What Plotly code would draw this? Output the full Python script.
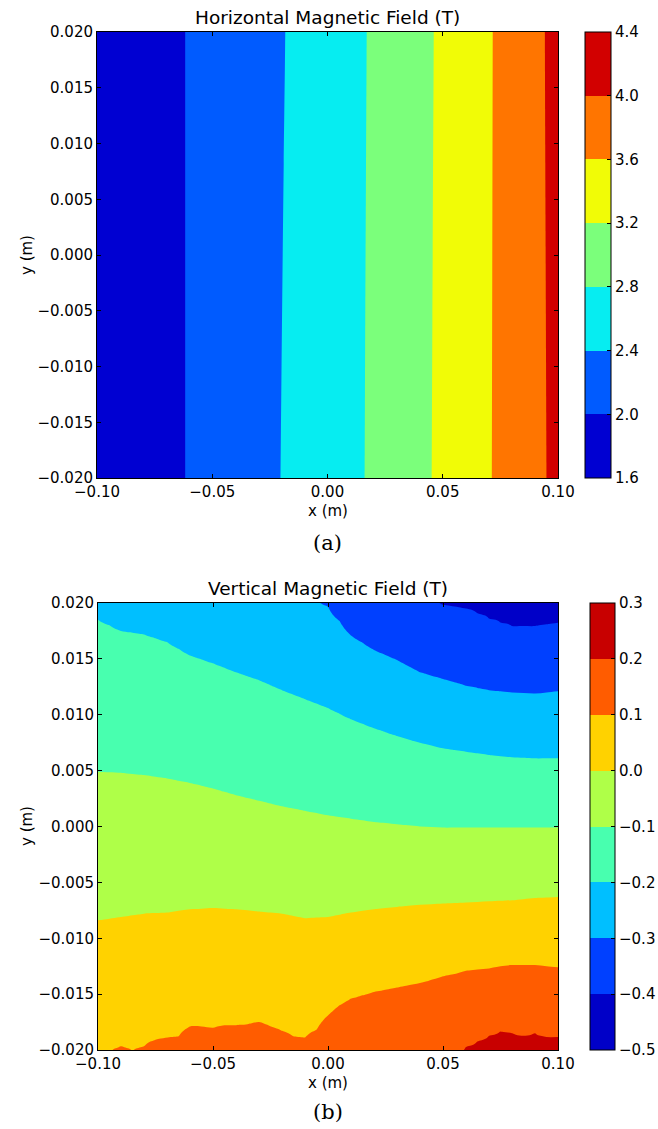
import numpy as np
import plotly.graph_objects as go

# ---------------- (a) Horizontal magnetic field ----------------
# x-position (m) where each contour level crosses the top edge (y=0.02) and bottom edge (y=-0.02)
bx_levels = [1.6, 2.0, 2.4, 2.8, 3.2, 3.6, 4.0, 4.4]
bx_cross_top = [-0.120, -0.0617, -0.0183, 0.0170, 0.0461, 0.0717, 0.0943, 0.115]
bx_cross_bottom = [-0.120, -0.0617, -0.0204, 0.0161, 0.0452, 0.0713, 0.0950, 0.115]
bx_ticks = [1.6, 2.0, 2.4, 2.8, 3.2, 3.6, 4.0, 4.4]

# ---------------- (b) Vertical magnetic field ----------------
by_levels = [-0.5, -0.4, -0.3, -0.2, -0.1, 0.0, 0.1, 0.2, 0.3]
x_coarse = [-0.10, -0.09, -0.08, -0.07, -0.06, -0.05, -0.04, -0.03, -0.02, -0.01, 0.00,
            0.01, 0.02, 0.03, 0.04, 0.05, 0.06, 0.07, 0.08, 0.09, 0.10]
x_fine = [-0.100, -0.095, -0.090, -0.085, -0.080, -0.075, -0.070, -0.065, -0.060, -0.055,
          -0.050, -0.045, -0.040, -0.035, -0.030, -0.025, -0.020, -0.015, -0.010, -0.005,
          0.000, 0.005, 0.010, 0.015, 0.020, 0.025, 0.030, 0.035, 0.040, 0.045, 0.050,
          0.055, 0.060, 0.065, 0.070, 0.075, 0.080, 0.085, 0.090, 0.095, 0.100]
# y-position (m) of each contour level along x (values outside +-0.02 lie off the plot)
y_lvl_m05 = 0.04
y_lvl_m04 = [0.0332, 0.0326, 0.0319, 0.0310, 0.0301, 0.0292, 0.0283, 0.0272, 0.0261, 0.0249,
             0.0238, 0.0228, 0.0219, 0.0212, 0.0205, 0.0198, 0.0195, 0.0186, 0.0179, 0.0179, 0.0182]
y_lvl_m03 = [0.0265, 0.0264, 0.0261, 0.0256, 0.0252, 0.0246, 0.0238, 0.0230, 0.0221, 0.0210,
             0.0197, 0.0171, 0.0158, 0.0149, 0.0138, 0.0132, 0.0126, 0.0122, 0.0120, 0.0119, 0.0121]
y_lvl_m02 = [0.0185, 0.0175, 0.0172, 0.0165, 0.0153, 0.0146, 0.0138, 0.0131, 0.0122, 0.0114,
             0.0106, 0.0096, 0.0088, 0.0081, 0.0075, 0.0070, 0.0067, 0.0064, 0.0062, 0.0061, 0.0061]
y_lvl_m01 = [0.0049, 0.0048, 0.0046, 0.0043, 0.0039, 0.0034, 0.0028, 0.0023, 0.0018, 0.0014,
             0.0010, 0.0007, 0.0004, 0.0002, 0.0000, -0.0001, -0.0001, -0.0001, -0.0001, -0.0001, -0.0001]
y_lvl_00 = [-0.0084, -0.0081, -0.0078, -0.0077, -0.0074, -0.0073, -0.0074, -0.0076, -0.0078, -0.0082,
            -0.0081, -0.0077, -0.0074, -0.0072, -0.0070, -0.0069, -0.0068, -0.0067, -0.0066, -0.0064, -0.0063]
y_lvl_p01 = [-0.0205, -0.0203, -0.0197, -0.0201, -0.0197, -0.0191, -0.0189, -0.0188, -0.0179, -0.0179,
             -0.0180, -0.0178, -0.0178, -0.0177, -0.0175, -0.0179, -0.0183, -0.0188, -0.0189, -0.0182,
             -0.0169, -0.0160, -0.0154, -0.0151, -0.0148, -0.0146, -0.0144, -0.0142, -0.0140, -0.0137,
             -0.0134, -0.0132, -0.0129, -0.0128, -0.0127, -0.0125, -0.0124, -0.0124, -0.0124, -0.0125, -0.0126]
y_lvl_p02 = [-0.0240, -0.0240, -0.0240, -0.0240, -0.0240, -0.0240, -0.0240, -0.0240, -0.0240, -0.0240,
             -0.0240, -0.0240, -0.0240, -0.0240, -0.0240, -0.0240, -0.0240, -0.0240, -0.0240, -0.0240,
             -0.0240, -0.0240, -0.0240, -0.0240, -0.0240, -0.0240, -0.0240, -0.0240, -0.0240, -0.0240,
             -0.0240, -0.0205, -0.0197, -0.0192, -0.0187, -0.0183, -0.0185, -0.0187, -0.0185, -0.0188, -0.0188]
y_lvl_p03 = -0.04
by_ticks = [-0.5, -0.4, -0.3, -0.2, -0.1, 0.0, 0.1, 0.2, 0.3]


def jet(t):
    def seg(pts):
        xs = [p[0] for p in pts]
        vs = [p[1] for p in pts]
        return float(np.interp(t, xs, vs))
    r = seg([(0, 0), (0.35, 0), (0.66, 1), (0.89, 1), (1, 0.5)])
    g = seg([(0, 0), (0.125, 0), (0.375, 1), (0.64, 1), (0.91, 0), (1, 0)])
    b = seg([(0, 0.5), (0.11, 1), (0.34, 1), (0.65, 0), (1, 0)])
    return "rgb(%d,%d,%d)" % (round(r * 255), round(g * 255), round(b * 255))


def band_scale(n):
    cols = [jet((k + 0.5) / n) for k in range(n)]
    scale = [[0.0, cols[0]]]
    for k in range(n - 1):
        p = (k + 1.5) / (n + 1)
        scale.append([p, cols[k]])
        scale.append([p, cols[k + 1]])
    scale.append([1.0, cols[-1]])
    return scale


# grid for (a)
xa = np.linspace(-0.1, 0.1, 401)
ya = np.array([-0.02, 0.02])
za = np.vstack([np.interp(xa, bx_cross_bottom, bx_levels),
                np.interp(xa, bx_cross_top, bx_levels)])

# grid for (b)
xf = np.array(x_fine)
yb = np.linspace(-0.02, 0.02, 321)
knots = [
    np.full(len(xf), y_lvl_p03),
    np.array(y_lvl_p02),
    np.array(y_lvl_p01),
    np.interp(xf, x_coarse, y_lvl_00),
    np.interp(xf, x_coarse, y_lvl_m01),
    np.interp(xf, x_coarse, y_lvl_m02),
    np.interp(xf, x_coarse, y_lvl_m03),
    np.interp(xf, x_coarse, y_lvl_m04),
    np.full(len(xf), y_lvl_m05),
]
lv = by_levels[::-1]
zb = np.zeros((len(yb), len(xf)))
for j in range(len(xf)):
    ys = [k[j] for k in knots]
    zb[:, j] = np.interp(yb, ys, lv)

FONT = "DejaVu Sans"
FS = 15

# page geometry (pixels)
W, H = 658, 1129
ML, MR, MT, MB = 97, 100, 32, 79
PW, PH = W - ML - MR, H - MT - MB


def xp(px):
    return (px - ML) / PW


def yp(py):
    return (H - MB - py) / PH


fig = go.Figure()
fig.add_trace(go.Contour(
    x=xa, y=ya, z=za, xaxis="x", yaxis="y",
    zmin=1.6, zmax=4.4,
    colorscale=band_scale(7),
    contours=dict(start=1.6, end=4.4, size=0.4, coloring="fill", showlines=False),
    line=dict(width=0),
    colorbar=dict(x=xp(585), xanchor="left", y=yp(32), yanchor="top",
                  len=446 / PH, lenmode="fraction", thickness=26, thicknessmode="pixels",
                  xpad=0, ypad=0, outlinecolor="black", outlinewidth=1,
                  tickvals=bx_ticks, ticktext=["%.1f" % v for v in bx_ticks],
                  ticks="inside", ticklen=4, tickcolor="black",
                  tickfont=dict(family=FONT, size=FS, color="black")),
    hoverinfo="skip",
))
fig.add_trace(go.Contour(
    x=xf, y=yb, z=zb, xaxis="x2", yaxis="y2",
    zmin=-0.5, zmax=0.3,
    colorscale=band_scale(8),
    contours=dict(start=-0.5, end=0.3, size=0.1, coloring="fill", showlines=False),
    line=dict(width=0),
    colorbar=dict(x=xp(590), xanchor="left", y=yp(603), yanchor="top",
                  len=447 / PH, lenmode="fraction", thickness=25, thicknessmode="pixels",
                  xpad=0, ypad=0, outlinecolor="black", outlinewidth=1,
                  tickvals=by_ticks, ticktext=[("%.1f" % v).replace("-", "\u2212") for v in by_ticks],
                  ticks="inside", ticklen=4, tickcolor="black",
                  tickfont=dict(family=FONT, size=FS, color="black")),
    hoverinfo="skip",
))

axis_common = dict(showline=True, linecolor="black", linewidth=1, mirror="ticks",
                   ticks="inside", ticklen=4, tickcolor="black", showgrid=False, zeroline=False,
                   tickfont=dict(family=FONT, size=FS, color="black"))

fig.update_layout(
    width=W, height=H,
    margin=dict(l=ML, r=MR, t=MT, b=MB, autoexpand=False),
    paper_bgcolor="white", plot_bgcolor="white",
    showlegend=False,
    xaxis=dict(domain=[xp(97), xp(558)], anchor="y", range=[-0.1, 0.1],
               tickvals=[-0.1, -0.05, 0, 0.05, 0.1], tickformat=".2f", **axis_common),
    yaxis=dict(domain=[yp(478), yp(32)], anchor="x", range=[-0.02, 0.02],
               tickvals=[-0.02, -0.015, -0.01, -0.005, 0, 0.005, 0.01, 0.015, 0.02],
               tickformat=".3f", **axis_common),
    xaxis2=dict(domain=[xp(98), xp(558)], anchor="y2", range=[-0.1, 0.1],
                tickvals=[-0.1, -0.05, 0, 0.05, 0.1], tickformat=".2f", **axis_common),
    yaxis2=dict(domain=[yp(1050), yp(603)], anchor="x2", range=[-0.02, 0.02],
                tickvals=[-0.02, -0.015, -0.01, -0.005, 0, 0.005, 0.01, 0.015, 0.02],
                tickformat=".3f", **axis_common),
)


def ann(text, xpx, ypx, size=FS, family=FONT, angle=0):
    fig.add_annotation(text=text, x=xp(xpx), y=yp(ypx), xref="paper", yref="paper",
                       showarrow=False, textangle=angle, xanchor="center", yanchor="middle",
                       font=dict(family=family, size=size, color="black"))


ann("Horizontal Magnetic Field (T)", 327.5, 18, size=18.5)
ann("x (m)", 327.5, 511)
ann("y (m)", 27, 255, angle=-90)
ann("(a)", 327.5, 543, size=21, family="DejaVu Serif")
ann("Vertical Magnetic Field (T)", 328, 588, size=18.5)
ann("x (m)", 328, 1083)
ann("y (m)", 27, 826, angle=-90)
ann("(b)", 328, 1112, size=21, family="DejaVu Serif")

fig.write_html("out.html",
               config={"displayModeBar": False},
               post_script="document.body.style.margin='0';document.body.style.padding='0';")
